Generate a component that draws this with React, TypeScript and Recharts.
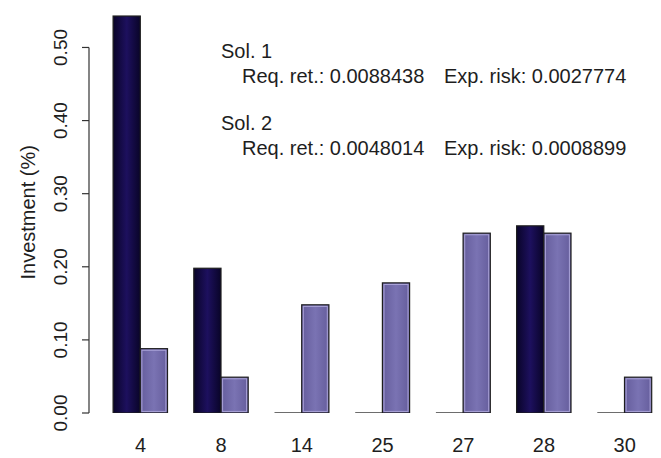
import { BarChart, Bar, XAxis, YAxis, ReferenceLine } from "recharts";

// asset ids on the x axis and the two optimal portfolios (weights)
const categories = ["4", "8", "14", "25", "27", "28", "30"];
const sol1 = [0.543, 0.198, 0, 0, 0, 0.256, 0];
const sol2 = [0.088, 0.049, 0.148, 0.178, 0.246, 0.246, 0.049];
const yTicks = [0, 0.1, 0.2, 0.3, 0.4, 0.5];

const solLabels = ["Sol. 1", "Sol. 2"];
const reqRet = ["0.0088438", "0.0048014"];
const expRisk = ["0.0027774", "0.0008899"];

const data = categories.map((c, i) => ({ name: c, sol1: sol1[i], sol2: sol2[i] }));

const FONT = "'Liberation Sans', Arial, Helvetica, sans-serif";
const INK = "#1e1e1e";

function BarShape(props: any) {
  const { x, y, width, height, gradId, inner } = props;
  if (!height || Math.abs(height) < 0.5) {
    // zero weight: R draws a flat outline on the baseline
    return <line x1={x} x2={x + width} y1={y} y2={y} stroke={INK} strokeWidth={1.3} />;
  }
  return (
    <g>
      <rect x={x} y={y} width={width} height={height} fill={`url(#${gradId})`} stroke={INK} strokeWidth={1.2} />
      {inner && (
        <rect
          x={x + 1.6}
          y={y + 1.6}
          width={Math.max(width - 3.2, 0)}
          height={Math.max(height - 3.2, 0)}
          fill="none"
          stroke={inner}
          strokeWidth={1}
        />
      )}
    </g>
  );
}

function YTick({ x, y, payload }: any) {
  const tx = x - 15.3;
  return (
    <text
      x={tx}
      y={y}
      transform={`rotate(-90 ${tx} ${y})`}
      textAnchor="middle"
      fontSize={19}
      fontFamily={FONT}
      fill={INK}
    >
      {Number(payload.value).toFixed(2)}
    </text>
  );
}

function XTick({ x, y, payload }: any) {
  return (
    <text x={x} y={y + 39} textAnchor="middle" fontSize={20} fontFamily={FONT} fill={INK}>
      {payload.value}
    </text>
  );
}

function YLabel({ viewBox }: any) {
  const cx = viewBox.x + 35;
  const cy = viewBox.y + viewBox.height / 2 + 4;
  return (
    <text
      x={cx}
      y={cy}
      transform={`rotate(-90 ${cx} ${cy})`}
      textAnchor="middle"
      fontSize={20}
      fontFamily={FONT}
      fill={INK}
    >
      Investment (%)
    </text>
  );
}

export default function App() {
  return (
    <div
      style={{
        position: "absolute",
        left: 0,
        top: 0,
        width: 661,
        height: 458,
        overflow: "hidden",
        background: "#fff",
      }}
    >
      <BarChart
        width={665}
        height={458}
        data={data}
        margin={{ top: 3.6, right: 0, bottom: 0, left: 0 }}
        barGap={0}
        barSize={27.2}
      >
        <defs>
          <linearGradient id="gDark" x1="0" y1="0" x2="1" y2="0">
            <stop offset="0%" stopColor="#090428" />
            <stop offset="50%" stopColor="#1d105e" />
            <stop offset="100%" stopColor="#090428" />
          </linearGradient>
          <linearGradient id="gLight" x1="0" y1="0" x2="1" y2="0">
            <stop offset="0%" stopColor="#655d9c" />
            <stop offset="50%" stopColor="#7a73b3" />
            <stop offset="100%" stopColor="#655d9c" />
          </linearGradient>
        </defs>
        <XAxis
          dataKey="name"
          axisLine={false}
          tickLine={false}
          tickSize={0}
          tickMargin={0}
          height={45}
          padding={{ left: 11.1, right: 0 }}
          tick={<XTick />}
          interval={0}
        />
        <XAxis xAxisId="n" type="number" domain={[0, 1]} hide allowDataOverflow />
        <YAxis
          width={89}
          domain={[0, 0.56]}
          ticks={yTicks}
          allowDataOverflow
          axisLine={false}
          tickSize={7}
          tickMargin={0}
          tickLine={{ stroke: "#333", strokeWidth: 1.2 }}
          tick={<YTick />}
          label={<YLabel />}
        />
        <ReferenceLine
          xAxisId="n"
          segment={[
            { x: 0, y: 0 },
            { x: 0, y: 0.5 },
          ]}
          stroke="#333"
          strokeWidth={1.2}
          ifOverflow="visible"
        />
        <Bar
          dataKey="sol1"
          name="Sol. 1"
          isAnimationActive={false}
          shape={(p: any) => <BarShape {...p} gradId="gDark" />}
        />
        <Bar
          dataKey="sol2"
          name="Sol. 2"
          isAnimationActive={false}
          shape={(p: any) => <BarShape {...p} gradId="gLight" inner="#aaa3d8" />}
        />
      </BarChart>
      <svg
        width={661}
        height={458}
        style={{ position: "absolute", left: 0, top: 0, pointerEvents: "none" }}
      >
        {solLabels.map((s, i) => (
          <g key={s} fontFamily={FONT} fontSize={20} fill={INK}>
            <text x={221} y={58.3 + i * 72}>{s}</text>
            <text x={242} y={83.3 + i * 72}>{"Req. ret.: " + reqRet[i]}</text>
            <text x={444} y={83.3 + i * 72}>{"Exp. risk: " + expRisk[i]}</text>
          </g>
        ))}
      </svg>
    </div>
  );
}
